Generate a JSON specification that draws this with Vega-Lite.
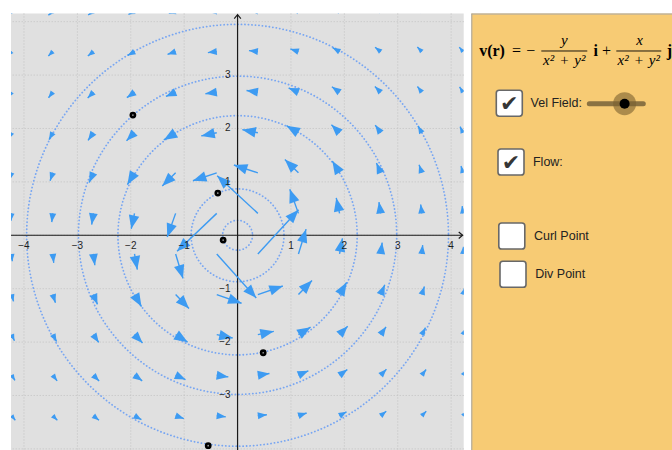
{
  "$schema": "https://vega.github.io/schema/vega-lite/v6.json",
  "bounds": "flush",
  "padding": {"left": 10, "top": 12.5, "right": 0, "bottom": 0},
  "background": "white",
  "spacing": 7.3,
  "config": {"view": {"stroke": null}},
  "datasets": {
    "ticks": [{"v": -4}, {"v": -3}, {"v": -2}, {"v": -1}, {"v": 0}, {"v": 1}, {"v": 2}, {"v": 3}, {"v": 4}],
    "circles": [{"r": 0.28}, {"r": 0.87}, {"r": 2.24}, {"r": 2.98}, {"r": 3.95}],
    "points": [{"x": -1.96, "y": 2.25}, {"x": -0.37, "y": 0.79}, {"x": -0.27, "y": -0.09}, {"x": 0.48, "y": -2.2}, {"x": -0.55, "y": -3.94}],
    "axes": [{"x": -4.243, "y": 0, "tx": 4.215, "ty": 0}, {"x": 0, "y": -4.04, "tx": 0, "ty": 4.13}],
    "axisTips": [{"x": 4.215, "y": 0, "dir": "x"}, {"x": 0, "y": 4.13, "dir": "y"}],
    "xLabels": [{"x": -4, "t": "−4"}, {"x": -3, "t": "−3"}, {"x": -2, "t": "−2"}, {"x": -1, "t": "−1"}, {"x": 1, "t": "1"}, {"x": 2, "t": "2"}, {"x": 3, "t": "3"}, {"x": 4, "t": "4"}],
    "yLabels": [{"y": -3, "t": "−3"}, {"y": -2, "t": "−2"}, {"y": -1, "t": "−1"}, {"y": 1, "t": "1"}, {"y": 2, "t": "2"}, {"y": 3, "t": "3"}],
    "arrows": [
      {"x": -4.23, "y": 4.19, "tx": -4.299, "ty": 4.121}, {"x": -3.46, "y": 4.19, "tx": -3.542, "ty": 4.122}, {"x": -2.7, "y": 4.19, "tx": -2.798, "ty": 4.127}, {"x": -1.93, "y": 4.19, "tx": -2.044, "ty": 4.137}, {"x": -1.16, "y": 4.19, "tx": -1.289, "ty": 4.154}, {"x": -0.39, "y": 4.19, "tx": -0.527, "ty": 4.177}, {"x": 0.38, "y": 4.19, "tx": 0.243, "ty": 4.202}, {"x": 1.14, "y": 4.19, "tx": 1.011, "ty": 4.225}, {"x": 1.91, "y": 4.19, "tx": 1.795, "ty": 4.242}, {"x": 2.68, "y": 4.19, "tx": 2.582, "ty": 4.253}, {"x": 3.45, "y": 4.19, "tx": 3.368, "ty": 4.258}, {"x": 4.22, "y": 4.19, "tx": 4.151, "ty": 4.259},
      {"x": -4.23, "y": 3.44, "tx": -4.297, "ty": 3.357}, {"x": -3.46, "y": 3.44, "tx": -3.544, "ty": 3.356}, {"x": -2.7, "y": 3.44, "tx": -2.804, "ty": 3.358}, {"x": -1.93, "y": 3.44, "tx": -2.058, "ty": 3.368}, {"x": -1.16, "y": 3.44, "tx": -1.311, "ty": 3.389}, {"x": -0.39, "y": 3.44, "tx": -0.556, "ty": 3.421}, {"x": 0.38, "y": 3.44, "tx": 0.213, "ty": 3.458}, {"x": 1.14, "y": 3.44, "tx": 0.988, "ty": 3.49}, {"x": 1.91, "y": 3.44, "tx": 1.781, "ty": 3.512}, {"x": 2.68, "y": 3.44, "tx": 2.575, "ty": 3.522}, {"x": 3.45, "y": 3.44, "tx": 3.366, "ty": 3.524}, {"x": 4.22, "y": 3.44, "tx": 4.153, "ty": 3.523},
      {"x": -4.23, "y": 2.68, "tx": -4.292, "ty": 2.582}, {"x": -3.46, "y": 2.68, "tx": -3.541, "ty": 2.575}, {"x": -2.7, "y": 2.68, "tx": -2.807, "ty": 2.572}, {"x": -1.93, "y": 2.68, "tx": -2.073, "ty": 2.577}, {"x": -1.16, "y": 2.68, "tx": -1.342, "ty": 2.601}, {"x": -0.39, "y": 2.68, "tx": -0.602, "ty": 2.649}, {"x": 0.38, "y": 2.68, "tx": 0.168, "ty": 2.71}, {"x": 1.14, "y": 2.68, "tx": 0.957, "ty": 2.758}, {"x": 1.91, "y": 2.68, "tx": 1.766, "ty": 2.782}, {"x": 2.68, "y": 2.68, "tx": 2.572, "ty": 2.788}, {"x": 3.45, "y": 2.68, "tx": 3.369, "ty": 2.785}, {"x": 4.22, "y": 2.68, "tx": 4.158, "ty": 2.778},
      {"x": -4.23, "y": 1.92, "tx": -4.282, "ty": 1.806}, {"x": -3.46, "y": 1.92, "tx": -3.531, "ty": 1.792}, {"x": -2.7, "y": 1.92, "tx": -2.801, "ty": 1.777}, {"x": -1.93, "y": 1.92, "tx": -2.08, "ty": 1.769}, {"x": -1.16, "y": 1.92, "tx": -1.381, "ty": 1.786}, {"x": -0.39, "y": 1.92, "tx": -0.68, "ty": 1.861}, {"x": 0.38, "y": 1.92, "tx": 0.089, "ty": 1.978}, {"x": 1.14, "y": 1.92, "tx": 0.917, "ty": 2.053}, {"x": 1.91, "y": 1.92, "tx": 1.758, "ty": 2.071}, {"x": 2.68, "y": 1.92, "tx": 2.578, "ty": 2.063}, {"x": 3.45, "y": 1.92, "tx": 3.379, "ty": 2.048}, {"x": 4.22, "y": 1.92, "tx": 4.168, "ty": 2.034},
      {"x": -4.23, "y": 1.17, "tx": -4.265, "ty": 1.043}, {"x": -3.46, "y": 1.17, "tx": -3.511, "ty": 1.02}, {"x": -2.7, "y": 1.17, "tx": -2.778, "ty": 0.989}, {"x": -1.93, "y": 1.17, "tx": -2.063, "ty": 0.95}, {"x": -1.16, "y": 1.17, "tx": -1.41, "ty": 0.922}, {"x": -0.39, "y": 1.17, "tx": -0.836, "ty": 1.021}, {"x": 0.38, "y": 1.17, "tx": -0.069, "ty": 1.316}, {"x": 1.14, "y": 1.17, "tx": 0.886, "ty": 1.418}, {"x": 1.91, "y": 1.17, "tx": 1.775, "ty": 1.391}, {"x": 2.68, "y": 1.17, "tx": 2.601, "ty": 1.352}, {"x": 3.45, "y": 1.17, "tx": 3.399, "ty": 1.321}, {"x": 4.22, "y": 1.17, "tx": 4.185, "ty": 1.298},
      {"x": -4.23, "y": 0.41, "tx": -4.243, "ty": 0.274}, {"x": -3.46, "y": 0.41, "tx": -3.48, "ty": 0.245}, {"x": -2.7, "y": 0.41, "tx": -2.732, "ty": 0.2}, {"x": -1.93, "y": 0.41, "tx": -1.991, "ty": 0.122}, {"x": -1.16, "y": 0.41, "tx": -1.317, "ty": -0.034}, {"x": -0.39, "y": 0.41, "tx": -1.133, "ty": -0.297}, {"x": 0.38, "y": 0.41, "tx": -0.382, "ty": 1.116}, {"x": 1.14, "y": 0.41, "tx": 0.978, "ty": 0.86}, {"x": 1.91, "y": 0.41, "tx": 1.848, "ty": 0.7}, {"x": 2.68, "y": 0.41, "tx": 2.648, "ty": 0.621}, {"x": 3.45, "y": 0.41, "tx": 3.43, "ty": 0.576}, {"x": 4.22, "y": 0.41, "tx": 4.207, "ty": 0.546},
      {"x": -4.23, "y": -0.35, "tx": -4.219, "ty": -0.486}, {"x": -3.46, "y": -0.35, "tx": -3.443, "ty": -0.516}, {"x": -2.7, "y": -0.35, "tx": -2.673, "ty": -0.561}, {"x": -1.93, "y": -0.35, "tx": -1.877, "ty": -0.641}, {"x": -1.16, "y": -0.35, "tx": -1.022, "ty": -0.808}, {"x": -0.39, "y": -0.35, "tx": 0.35, "ty": -1.174}, {"x": 0.38, "y": -0.35, "tx": 1.142, "ty": 0.477}, {"x": 1.14, "y": -0.35, "tx": 1.283, "ty": 0.115}, {"x": 1.91, "y": -0.35, "tx": 1.964, "ty": -0.056}, {"x": 2.68, "y": -0.35, "tx": 2.708, "ty": -0.137}, {"x": 3.45, "y": -0.35, "tx": 3.467, "ty": -0.184}, {"x": 4.22, "y": -0.35, "tx": 4.231, "ty": -0.214},
      {"x": -4.23, "y": -1.11, "tx": -4.196, "ty": -1.238}, {"x": -3.46, "y": -1.11, "tx": -3.411, "ty": -1.262}, {"x": -2.7, "y": -1.11, "tx": -2.624, "ty": -1.294}, {"x": -1.93, "y": -1.11, "tx": -1.8, "ty": -1.336}, {"x": -1.16, "y": -1.11, "tx": -0.91, "ty": -1.371}, {"x": -0.39, "y": -1.11, "tx": 0.075, "ty": -1.273}, {"x": 0.38, "y": -1.11, "tx": 0.848, "ty": -0.95}, {"x": 1.14, "y": -1.11, "tx": 1.394, "ty": -0.849}, {"x": 1.91, "y": -1.11, "tx": 2.042, "ty": -0.883}, {"x": 2.68, "y": -1.11, "tx": 2.757, "ty": -0.925}, {"x": 3.45, "y": -1.11, "tx": 3.499, "ty": -0.958}, {"x": 4.22, "y": -1.11, "tx": 4.254, "ty": -0.981},
      {"x": -4.23, "y": -1.86, "tx": -4.179, "ty": -1.975}, {"x": -3.46, "y": -1.86, "tx": -3.39, "ty": -1.99}, {"x": -2.7, "y": -1.86, "tx": -2.6, "ty": -2.006}, {"x": -1.93, "y": -1.86, "tx": -1.78, "ty": -2.016}, {"x": -1.16, "y": -1.86, "tx": -0.936, "ty": -2.0}, {"x": -0.39, "y": -1.86, "tx": -0.091, "ty": -1.923}, {"x": 0.38, "y": -1.86, "tx": 0.679, "ty": -1.799}, {"x": 1.14, "y": -1.86, "tx": 1.367, "ty": -1.721}, {"x": 1.91, "y": -1.86, "tx": 2.062, "ty": -1.704}, {"x": 2.68, "y": -1.86, "tx": 2.781, "ty": -1.714}, {"x": 3.45, "y": -1.86, "tx": 3.52, "ty": -1.73}, {"x": 4.22, "y": -1.86, "tx": 4.271, "ty": -1.745},
      {"x": -4.23, "y": -2.62, "tx": -4.169, "ty": -2.719}, {"x": -3.46, "y": -2.62, "tx": -3.379, "ty": -2.727}, {"x": -2.7, "y": -2.62, "tx": -2.593, "ty": -2.731}, {"x": -1.93, "y": -2.62, "tx": -1.786, "ty": -2.726}, {"x": -1.16, "y": -2.62, "tx": -0.975, "ty": -2.702}, {"x": -0.39, "y": -2.62, "tx": -0.173, "ty": -2.652}, {"x": 0.38, "y": -2.62, "tx": 0.597, "ty": -2.589}, {"x": 1.14, "y": -2.62, "tx": 1.326, "ty": -2.539}, {"x": 1.91, "y": -2.62, "tx": 2.055, "ty": -2.515}, {"x": 2.68, "y": -2.62, "tx": 2.788, "ty": -2.509}, {"x": 3.45, "y": -2.62, "tx": 3.531, "ty": -2.513}, {"x": 4.22, "y": -2.62, "tx": 4.282, "ty": -2.521},
      {"x": -4.23, "y": -3.38, "tx": -4.163, "ty": -3.464}, {"x": -3.46, "y": -3.38, "tx": -3.376, "ty": -3.466}, {"x": -2.7, "y": -3.38, "tx": -2.595, "ty": -3.464}, {"x": -1.93, "y": -3.38, "tx": -1.801, "ty": -3.454}, {"x": -1.16, "y": -3.38, "tx": -1.006, "ty": -3.433}, {"x": -0.39, "y": -3.38, "tx": -0.221, "ty": -3.4}, {"x": 0.38, "y": -3.38, "tx": 0.549, "ty": -3.361}, {"x": 1.14, "y": -3.38, "tx": 1.294, "ty": -3.328}, {"x": 1.91, "y": -3.38, "tx": 2.04, "ty": -3.307}, {"x": 2.68, "y": -3.38, "tx": 2.785, "ty": -3.296}, {"x": 3.45, "y": -3.38, "tx": 3.534, "ty": -3.294}, {"x": 4.22, "y": -3.38, "tx": 4.287, "ty": -3.296}
    ],
    "panelEdges": [{"px": 0, "py": 0, "px2": 202, "py2": 0}, {"px": 0, "py": 0, "px2": 0, "py2": 437.3}],
    "formulaBold": [{"t": "v(r)", "px": 20.7, "py": 42.5}, {"t": "i", "px": 124.5, "py": 42.5}, {"t": "j", "px": 198, "py": 42.5}],
    "formulaRoman": [{"t": "=", "px": 45.3, "py": 42.5}, {"t": "−", "px": 59.5, "py": 42.5}, {"t": "+", "px": 135.3, "py": 42.5}],
    "formulaItalic": [{"t": "y", "px": 93, "py": 32}, {"t": "x²\u2004+\u2004y²", "px": 93, "py": 51.5}, {"t": "x", "px": 168.3, "py": 32}, {"t": "x²\u2004+\u2004y²", "px": 167.5, "py": 51.5}],
    "fractionBars": [{"px": 70, "px2": 116, "py": 37.5}, {"px": 145, "px2": 190, "py": 37.5}],
    "boxes": [{"px": 38, "py": 89.7, "on": true}, {"px": 39.7, "py": 148.5, "on": true}, {"px": 40.5, "py": 222.5, "on": false}, {"px": 41.7, "py": 260.8, "on": false}],
    "uiLabels": [{"t": "Vel Field:", "px": 59.3, "py": 89.7}, {"t": "Flow:", "px": 61.7, "py": 148.8}, {"t": "Curl Point", "px": 62.7, "py": 222.5}, {"t": "Div Point", "px": 64, "py": 260.8}],
    "sliderTrack": [{"px": 118, "px2": 172, "py": 90.2}],
    "sliderKnob": [{"px": 153.3, "py": 90.2}]
  },
  "hconcat": [
    {
      "width": 452.7,
      "height": 437.3,
      "view": {"fill": "#e0e0e0", "stroke": null},
      "layer": [
        {
          "data": {"name": "ticks"},
          "mark": {"type": "rule", "color": "#c2c2c2", "strokeWidth": 1, "strokeDash": [1, 2]},
          "encoding": {
            "x": {"field": "v", "type": "quantitative", "scale": {"domain": [-4.243, 4.235], "nice": false, "zero": false}, "axis": null}
          }
        },
        {
          "data": {"name": "ticks"},
          "mark": {"type": "rule", "color": "#c2c2c2", "strokeWidth": 1, "strokeDash": [1, 2]},
          "encoding": {
            "y": {"field": "v", "type": "quantitative", "scale": {"domain": [-4.036, 4.153], "nice": false, "zero": false}, "axis": null}
          }
        },
        {
          "data": {"name": "circles"},
          "transform": [{"calculate": "pow(2 * 53.4 * datum.r, 2)", "as": "sz"}],
          "mark": {"type": "point", "shape": "circle", "filled": false, "color": "#78a6f2", "opacity": 1, "strokeWidth": 1.8, "strokeDash": [0.1, 3.4], "strokeCap": "round", "clip": true},
          "encoding": {
            "x": {"datum": 0, "type": "quantitative", "scale": {"domain": [-4.243, 4.235], "nice": false, "zero": false}, "axis": null},
            "y": {"datum": 0, "type": "quantitative", "scale": {"domain": [-4.036, 4.153], "nice": false, "zero": false}, "axis": null},
            "size": {"field": "sz", "type": "quantitative", "scale": null, "legend": null}
          }
        },
        {
          "data": {"name": "axes"},
          "mark": {"type": "rule", "color": "#1a1a1a", "strokeWidth": 1.2, "clip": true},
          "encoding": {
            "x": {"field": "x", "type": "quantitative", "scale": {"domain": [-4.243, 4.235], "nice": false, "zero": false}, "axis": null},
            "y": {"field": "y", "type": "quantitative", "scale": {"domain": [-4.036, 4.153], "nice": false, "zero": false}, "axis": null},
            "x2": {"field": "tx"},
            "y2": {"field": "ty"}
          }
        },
        {
          "data": {"name": "axisTips"},
          "transform": [{"filter": "datum.dir === 'x'"}],
          "mark": {"type": "point", "shape": "M-1.3,-1.1L0,0L-1.3,1.1", "filled": false, "color": "#1a1a1a", "opacity": 1, "strokeWidth": 1.2, "size": 36, "angle": 0, "clip": true},
          "encoding": {
            "x": {"field": "x", "type": "quantitative", "scale": {"domain": [-4.243, 4.235], "nice": false, "zero": false}, "axis": null},
            "y": {"field": "y", "type": "quantitative", "scale": {"domain": [-4.036, 4.153], "nice": false, "zero": false}, "axis": null}
          }
        },
        {
          "data": {"name": "axisTips"},
          "transform": [{"filter": "datum.dir === 'y'"}],
          "mark": {"type": "point", "shape": "M-1.3,-1.1L0,0L-1.3,1.1", "filled": false, "color": "#1a1a1a", "opacity": 1, "strokeWidth": 1.2, "size": 36, "angle": 270, "clip": true},
          "encoding": {
            "x": {"field": "x", "type": "quantitative", "scale": {"domain": [-4.243, 4.235], "nice": false, "zero": false}, "axis": null},
            "y": {"field": "y", "type": "quantitative", "scale": {"domain": [-4.036, 4.153], "nice": false, "zero": false}, "axis": null}
          }
        },
        {
          "data": {"name": "arrows"},
          "mark": {"type": "rule", "color": "#3d9bf2", "strokeWidth": 1.4, "clip": true},
          "encoding": {
            "x": {"field": "x", "type": "quantitative", "scale": {"domain": [-4.243, 4.235], "nice": false, "zero": false}, "axis": null},
            "y": {"field": "y", "type": "quantitative", "scale": {"domain": [-4.036, 4.153], "nice": false, "zero": false}, "axis": null},
            "x2": {"field": "tx"},
            "y2": {"field": "ty"}
          }
        },
        {
          "data": {"name": "arrows"},
          "transform": [
            {"calculate": "atan2(datum.y - datum.ty, datum.tx - datum.x) * 180 / PI", "as": "ang"},
            {"calculate": "pow(min(53.4 * sqrt(pow(datum.tx - datum.x, 2) + pow(datum.ty - datum.y, 2)), 13.5), 2)", "as": "hs"}
          ],
          "mark": {"type": "point", "shape": "M0,0L-2,-0.78L-2,0.78Z", "filled": true, "color": "#3d9bf2", "opacity": 1, "clip": true},
          "encoding": {
            "x": {"field": "tx", "type": "quantitative", "scale": {"domain": [-4.243, 4.235], "nice": false, "zero": false}, "axis": null},
            "y": {"field": "ty", "type": "quantitative", "scale": {"domain": [-4.036, 4.153], "nice": false, "zero": false}, "axis": null},
            "angle": {"field": "ang", "type": "quantitative", "scale": null},
            "size": {"field": "hs", "type": "quantitative", "scale": null, "legend": null}
          }
        },
        {
          "data": {"name": "xLabels"},
          "mark": {"type": "text", "font": "Liberation Sans", "fontSize": 10, "color": "#1e1e1e", "align": "center", "baseline": "alphabetic", "dy": 13.8},
          "encoding": {
            "x": {"field": "x", "type": "quantitative", "scale": {"domain": [-4.243, 4.235], "nice": false, "zero": false}, "axis": null},
            "y": {"datum": 0, "type": "quantitative", "scale": {"domain": [-4.036, 4.153], "nice": false, "zero": false}, "axis": null},
            "text": {"field": "t"}
          }
        },
        {
          "data": {"name": "yLabels"},
          "mark": {"type": "text", "font": "Liberation Sans", "fontSize": 10, "color": "#1e1e1e", "align": "right", "baseline": "middle", "dx": -7},
          "encoding": {
            "x": {"datum": 0, "type": "quantitative", "scale": {"domain": [-4.243, 4.235], "nice": false, "zero": false}, "axis": null},
            "y": {"field": "y", "type": "quantitative", "scale": {"domain": [-4.036, 4.153], "nice": false, "zero": false}, "axis": null},
            "text": {"field": "t"}
          }
        },
        {
          "mark": {"type": "text", "font": "Liberation Sans", "fontSize": 10, "color": "#1e1e1e", "align": "right", "baseline": "alphabetic", "dx": -7, "dy": 13.5},
          "encoding": {
            "x": {"datum": 0, "type": "quantitative", "scale": {"domain": [-4.243, 4.235], "nice": false, "zero": false}, "axis": null},
            "y": {"datum": 0, "type": "quantitative", "scale": {"domain": [-4.036, 4.153], "nice": false, "zero": false}, "axis": null},
            "text": {"value": "0"}
          }
        },
        {
          "data": {"name": "points"},
          "mark": {"type": "point", "shape": "circle", "filled": true, "color": "#000000", "opacity": 1, "size": 46, "clip": true},
          "encoding": {
            "x": {"field": "x", "type": "quantitative", "scale": {"domain": [-4.243, 4.235], "nice": false, "zero": false}, "axis": null},
            "y": {"field": "y", "type": "quantitative", "scale": {"domain": [-4.036, 4.153], "nice": false, "zero": false}, "axis": null}
          }
        },
        {
          "data": {"name": "points"},
          "mark": {"type": "point", "shape": "circle", "filled": true, "color": "#9a9a9a", "opacity": 1, "size": 3, "clip": true},
          "encoding": {
            "x": {"field": "x", "type": "quantitative", "scale": {"domain": [-4.243, 4.235], "nice": false, "zero": false}, "axis": null},
            "y": {"field": "y", "type": "quantitative", "scale": {"domain": [-4.036, 4.153], "nice": false, "zero": false}, "axis": null}
          }
        },
        {
          "mark": {"type": "rule", "color": "#8f8f8f", "strokeWidth": 2.4, "clip": true},
          "encoding": {
            "x": {"datum": -4.243, "type": "quantitative", "scale": {"domain": [-4.243, 4.235], "nice": false, "zero": false}, "axis": null}
          }
        },
        {
          "mark": {"type": "rule", "color": "#8f8f8f", "strokeWidth": 2.4, "clip": true},
          "encoding": {
            "y": {"datum": 4.153, "type": "quantitative", "scale": {"domain": [-4.036, 4.153], "nice": false, "zero": false}, "axis": null}
          }
        }
      ]
    },
    {
      "width": 202,
      "height": 437.3,
      "view": {"fill": "#f7cb74", "stroke": null},
      "encoding": {
        "x": {"field": "px", "type": "quantitative", "scale": {"domain": [0, 202], "nice": false, "zero": false}, "axis": null},
        "y": {"field": "py", "type": "quantitative", "scale": {"domain": [0, 437.3], "nice": false, "zero": false, "reverse": true}, "axis": null}
      },
      "layer": [
        {
          "data": {"name": "panelEdges"},
          "mark": {"type": "rule", "color": "#a5a5a5", "strokeWidth": 2, "clip": true},
          "encoding": {"x2": {"field": "px2"}, "y2": {"field": "py2"}}
        },
        {
          "data": {"name": "fractionBars"},
          "mark": {"type": "rule", "color": "#000000", "strokeWidth": 0.9},
          "encoding": {"x2": {"field": "px2"}}
        },
        {
          "data": {"name": "formulaBold"},
          "mark": {"type": "text", "font": "Liberation Serif", "fontWeight": "bold", "fontSize": 16, "color": "#000000", "align": "center", "baseline": "alphabetic", "clip": true},
          "encoding": {"text": {"field": "t"}}
        },
        {
          "data": {"name": "formulaRoman"},
          "mark": {"type": "text", "font": "Liberation Serif", "fontSize": 16, "color": "#000000", "align": "center", "baseline": "alphabetic"},
          "encoding": {"text": {"field": "t"}}
        },
        {
          "data": {"name": "formulaItalic"},
          "mark": {"type": "text", "font": "Liberation Serif", "fontStyle": "italic", "fontSize": 15, "color": "#000000", "align": "center", "baseline": "alphabetic"},
          "encoding": {"text": {"field": "t"}}
        },
        {
          "data": {"name": "boxes"},
          "mark": {"type": "point", "shape": "M-0.78,-1L0.78,-1Q1,-1 1,-0.78L1,0.78Q1,1 0.78,1L-0.78,1Q-1,1 -1,0.78L-1,-0.78Q-1,-1 -0.78,-1Z", "filled": true, "fill": "#ffffff", "stroke": "#686868", "strokeWidth": 1.6, "opacity": 1, "size": 676}
        },
        {
          "data": {"name": "boxes"},
          "transform": [{"filter": "datum.on"}],
          "mark": {"type": "text", "font": "DejaVu Sans", "fontSize": 22, "color": "#363636", "align": "center", "baseline": "middle", "dy": 1},
          "encoding": {"text": {"value": "✔"}}
        },
        {
          "data": {"name": "uiLabels"},
          "mark": {"type": "text", "font": "Liberation Sans", "fontSize": 12.5, "color": "#222222", "align": "left", "baseline": "middle"},
          "encoding": {"text": {"field": "t"}}
        },
        {
          "data": {"name": "sliderTrack"},
          "mark": {"type": "rule", "color": "#8a7242", "strokeWidth": 5, "strokeCap": "round"},
          "encoding": {"x2": {"field": "px2"}}
        },
        {
          "data": {"name": "sliderKnob"},
          "mark": {"type": "point", "shape": "circle", "filled": true, "color": "#7a6030", "opacity": 0.6, "size": 529}
        },
        {
          "data": {"name": "sliderKnob"},
          "mark": {"type": "point", "shape": "circle", "filled": true, "color": "#000000", "opacity": 1, "size": 100}
        }
      ]
    }
  ]
}
